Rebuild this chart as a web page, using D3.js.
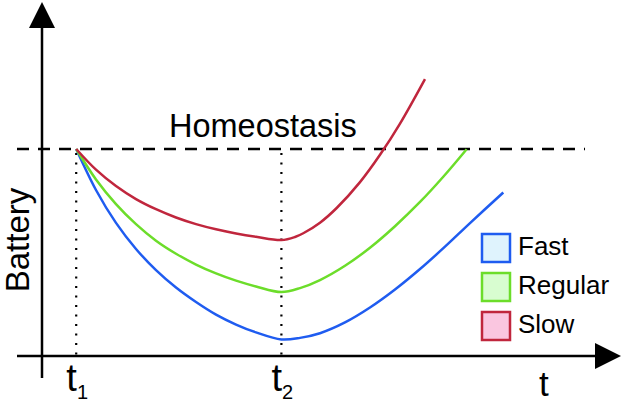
<!DOCTYPE html>
<html>
<head>
<meta charset="utf-8">
<script src="https://cdn.jsdelivr.net/npm/d3@7"></script>
<style>
  html, body { margin: 0; padding: 0; background: #fff; }
  svg { display: block; font-family: "Liberation Sans", Arial, sans-serif; }
</style>
</head>
<body>
<svg id="chart" width="624" height="403"></svg>
<script>
// ---- data (time units 0..100, battery units: 0 = axis, 100 = homeostasis) ----
const seriesNames = ["Fast", "Regular", "Slow"];
const tickValues = [6, 42];
const tickLabels = [["t", "1"], ["t", "2"]];
const homeostasisLevel = 100;

const fastT    = [6, 9.47, 12.98, 16.49, 20.0, 23.51, 27.02, 30.53, 34.04, 37.54, 42, 45.26, 48.77, 53.16, 57.54, 61.93, 66.32, 70.7, 75.09, 80.93];
const fastB    = [100, 80.2, 64.3, 51.7, 41.5, 33.1, 26.1, 20.0, 15.2, 11.4, 8.0, 8.75, 11.0, 16.2, 23.4, 32.1, 42.0, 52.8, 64.2, 79.0];
const regularT = [6, 9.47, 12.98, 16.49, 20.0, 23.51, 27.02, 30.53, 34.04, 37.54, 42, 45.26, 48.77, 53.16, 57.54, 61.93, 66.32, 70.4, 74.5];
const regularB = [100, 85.3, 73.4, 63.7, 55.7, 49.4, 44.2, 39.9, 36.4, 33.6, 30.9, 32.8, 36.7, 43.6, 52.3, 62.7, 74.4, 86.6, 99.9];
const slowT    = [6, 9.47, 12.98, 16.49, 20.0, 23.51, 27.02, 30.53, 34.04, 37.54, 42, 44.39, 45.84, 48.77, 51.7, 55.79, 59.3, 62.81, 67.19];
const slowB    = [100, 90.0, 82.1, 75.8, 70.9, 66.9, 63.7, 61.2, 59.2, 57.6, 56.0, 57.5, 59.3, 64.4, 71.5, 84.0, 97.2, 112.3, 133.8];

const lineColors = { Fast: "#1f5cf0", Regular: "#6cdd2a", Slow: "#c0263d" };
const boxFills   = { Fast: "#dff3fd", Regular: "#d8fdd0", Slow: "#fac6e0" };

// ---- setup ----
const svg = d3.select("#chart");
const x = d3.scaleLinear().domain([0, 100]).range([42, 612]);
const y = d3.scaleLinear().domain([0, 100]).range([356, 149]);

const series = [
  { name: "Fast", t: fastT, b: fastB },
  { name: "Regular", t: regularT, b: regularB },
  { name: "Slow", t: slowT, b: slowB }
];

// ---- axes (arrows) ----
const x0 = x(0), yBase = y(0);
svg.append("line").attr("x1", x0).attr("x2", x0).attr("y1", 378).attr("y2", 26)
  .attr("stroke", "#000").attr("stroke-width", 2.5);
svg.append("path")
  .attr("d", `M${x0},2 L${x0 + 13},28 L${x0 - 13},28 Z`)
  .attr("fill", "#000");
svg.append("line").attr("x1", 17).attr("x2", 598).attr("y1", yBase).attr("y2", yBase)
  .attr("stroke", "#000").attr("stroke-width", 2.5);
svg.append("path")
  .attr("d", `M621,${yBase} L595,${yBase - 13} L595,${yBase + 13} Z`)
  .attr("fill", "#000");

// homeostasis dashed line
svg.append("line").attr("x1", 17).attr("x2", 585)
  .attr("y1", y(homeostasisLevel)).attr("y2", y(homeostasisLevel))
  .attr("stroke", "#000").attr("stroke-width", 2.5)
  .attr("stroke-dasharray", "12,9");

// dotted verticals
tickValues.forEach(v => {
  svg.append("line").attr("x1", x(v)).attr("x2", x(v))
    .attr("y1", y(homeostasisLevel) + 4).attr("y2", yBase)
    .attr("stroke", "#000").attr("stroke-width", 2.2)
    .attr("stroke-dasharray", "2,7.5");
});

// ---- curves ----
const line = d3.line()
  .x(d => x(d[0])).y(d => y(d[1]))
  .curve(d3.curveCatmullRom.alpha(0.5));

series.forEach(s => {
  const pts = s.t.map((t, i) => [t, s.b[i]]);
  svg.append("path").datum(pts)
    .attr("d", line)
    .attr("fill", "none")
    .attr("stroke", lineColors[s.name])
    .attr("stroke-width", 2.5);
});

// ---- texts ----
svg.append("text").attr("x", 169).attr("y", 137)
  .attr("font-size", 32.5).attr("fill", "#000").text("Homeostasis");

svg.append("text")
  .attr("transform", "translate(29,240) rotate(-90)")
  .attr("text-anchor", "middle")
  .attr("font-size", 33).attr("fill", "#000").text("Battery");

tickValues.forEach((v, i) => {
  const tx = svg.append("text").attr("x", x(v) + 1).attr("y", 391)
    .attr("text-anchor", "middle").attr("fill", "#000");
  tx.append("tspan").attr("font-size", 38).text(tickLabels[i][0]);
  tx.append("tspan").attr("font-size", 20).attr("dy", 8).text(tickLabels[i][1]);
});

svg.append("text").attr("x", 539).attr("y", 396)
  .attr("font-size", 35).attr("fill", "#000").text("t");

// ---- legend ----
const legend = svg.append("g").attr("transform", "translate(482,234)");
seriesNames.forEach((n, i) => {
  const g = legend.append("g").attr("transform", `translate(0,${i * 39})`);
  g.append("rect").attr("width", 28).attr("height", 28)
    .attr("fill", boxFills[n]).attr("stroke", lineColors[n]).attr("stroke-width", 2.5);
  g.append("text").attr("x", 36).attr("y", 21)
    .attr("font-size", 26).attr("fill", "#000").text(n);
});
</script>
</body>
</html>
